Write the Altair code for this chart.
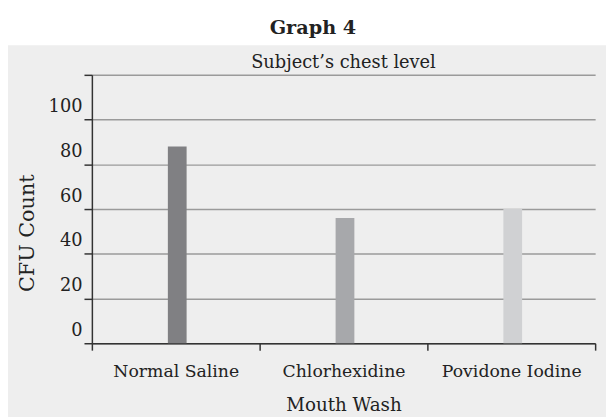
import altair as alt
import pandas as pd

categories = ["Normal Saline", "Chlorhexidine", "Povidone Iodine"]
cfu_counts = [88, 56, 60]
bar_colors = ["#808083", "#a7a8ab", "#d0d1d3"]
y_ticks = [0, 20, 40, 60, 80, 100, 120]
chart_title = "Graph 4"
chart_subtitle = "Subject\u2019s chest level"

df = pd.DataFrame({"Mouth Wash": categories, "CFU Count": cfu_counts, "color": bar_colors})
one = pd.DataFrame({"k": [0]})

W, H = 510, 272
FONT = "DejaVu Serif"
TXT = "#222222"

bars = alt.Chart(df).mark_bar(size=19, xOffset=1.5).encode(
    x=alt.X(
        "Mouth Wash:N",
        sort=categories,
        scale=alt.Scale(paddingInner=0, paddingOuter=0),
        axis=alt.Axis(
            title="Mouth Wash",
            labelAngle=0,
            tickBand="extent",
            tickSize=7,
            tickColor="#333333",
            domainColor="#333333",
            domainWidth=1.5,
            tickWidth=1.5,
            grid=False,
            labelFont=FONT,
            labelFontSize=17.5,
            labelColor=TXT,
            labelPadding=13,
            titleFont=FONT,
            titleFontSize=18.5,
            titleFontWeight="normal",
            titleColor=TXT,
            titlePadding=16,
        ),
    ),
    y=alt.Y(
        "CFU Count:Q",
        scale=alt.Scale(domain=[0, 120], nice=False),
        axis=alt.Axis(
            title="CFU Count",
            values=y_ticks,
            labelExpr="datum.value == 120 ? '' : datum.label",
            grid=True,
            gridColor="#9a9a9a",
            gridWidth=1.5,
            tickSize=8,
            tickColor="#333333",
            tickWidth=1.5,
            domainColor="#333333",
            domainWidth=1.5,
            labelFont=FONT,
            labelFontSize=18,
            labelColor=TXT,
            labelOffset=-13,
            labelPadding=2,
            titleFont=FONT,
            titleFontSize=21,
            titleFontWeight="normal",
            titleColor=TXT,
            titleX=-65,
            titleY=160,
            titleAngle=-90,
            titleAlign="center",
            titleBaseline="middle",
        ),
    ),
    color=alt.Color("color:N", scale=None, legend=None),
)

top_strip = alt.Chart(one).mark_rect(color="white").encode(
    x=alt.value(-120), x2=alt.value(W + 120), y=alt.value(-90), y2=alt.value(-30)
)

subtitle = alt.Chart(one).mark_text(
    font=FONT, fontSize=18, color=TXT, align="center", baseline="alphabetic"
).encode(x=alt.value(W / 2), y=alt.value(-7), text=alt.value(chart_subtitle))

main_title = alt.Chart(one).mark_text(
    font=FONT, fontSize=19.5, fontWeight="bold", color=TXT,
    align="center", baseline="alphabetic"
).encode(x=alt.value(224), y=alt.value(-41), text=alt.value(chart_title))

chart = alt.layer(top_strip, bars, subtitle, main_title).properties(
    width=W,
    height=H,
    background="#eeeeee",
    autosize=alt.AutoSizeParams(type="none"),
    padding={"left": 85, "top": 65, "right": 11, "bottom": 72},
).configure_view(strokeWidth=0)

chart.save("out.html", embed_options={"renderer": "svg", "actions": False})
